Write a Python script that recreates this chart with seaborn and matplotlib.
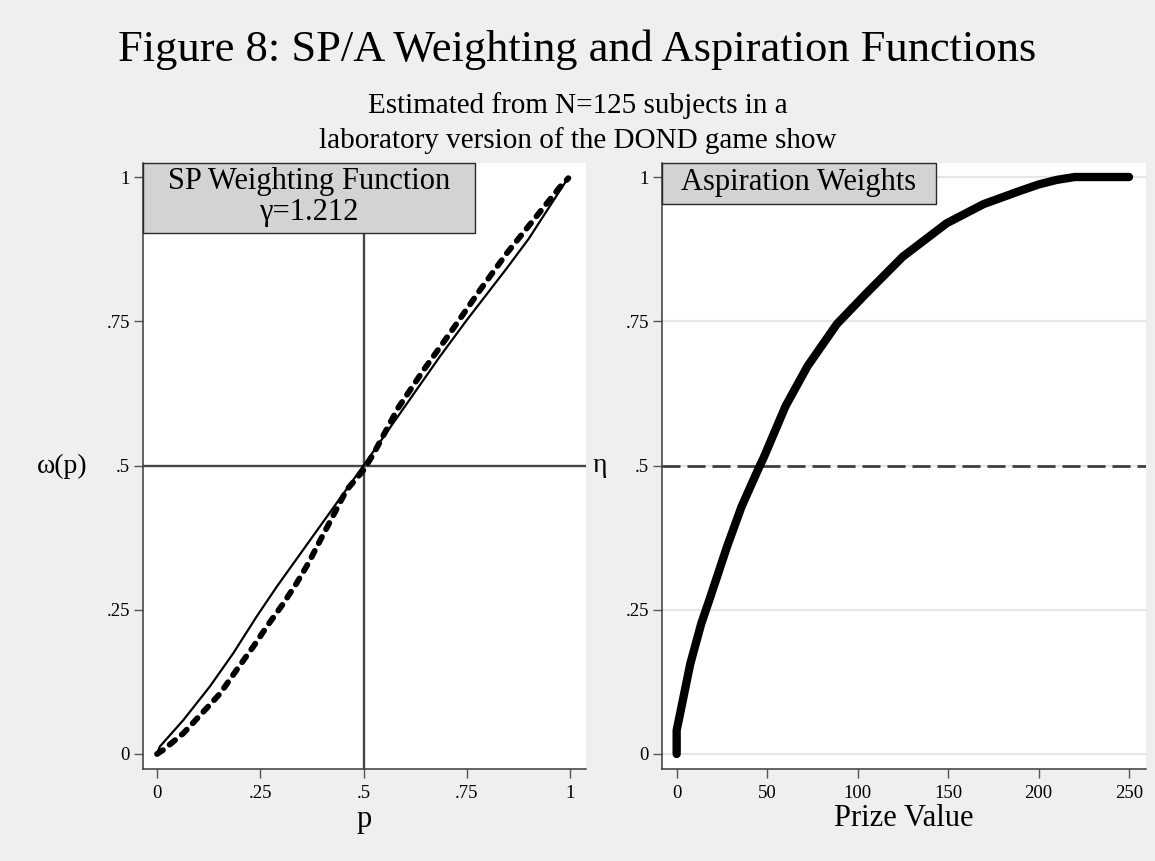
import matplotlib
matplotlib.use("Agg")
import matplotlib.pyplot as plt
from matplotlib.patches import Rectangle
import seaborn as sns
import pandas as pd

# SP weighting function panel
sp_p_dashed = [0, 0.015, 0.064, 0.112, 0.153, 0.193, 0.233, 0.266, 0.306, 0.338, 0.366,
               0.40, 0.459, 0.50, 0.524, 0.584, 0.645, 0.709, 0.782, 0.847, 0.911, 0.976, 0.996]
sp_w_dashed = [0, 0.007, 0.036, 0.073, 0.105, 0.146, 0.186, 0.221, 0.261, 0.296, 0.33,
               0.377, 0.4575, 0.492, 0.52, 0.60, 0.665, 0.729, 0.804, 0.868, 0.925, 0.983, 0.998]
sp_p_solid = [0, 0.007, 0.064, 0.128, 0.185, 0.241, 0.29, 0.33, 0.40, 0.5, 0.685, 0.75, 0.847, 0.9, 0.995]
sp_w_solid = [0, 0.013, 0.059, 0.117, 0.175, 0.238, 0.29, 0.33, 0.40, 0.5, 0.689, 0.752, 0.842, 0.893, 0.998]

# Aspiration weights panel
prize = [0, 0, 3.4, 7.5, 13.6, 18.6, 27.8, 35.9, 46, 48, 60.2, 72.3, 88.5, 104.7,
         125, 149.3, 169.6, 189.8, 200, 210, 220, 250]
asp_weight = [0, 0.041, 0.093, 0.156, 0.226, 0.272, 0.359, 0.429, 0.5, 0.513, 0.603, 0.672,
              0.745, 0.798, 0.862, 0.92, 0.953, 0.976, 0.987, 0.995, 1.0, 1.0]

ref_level = 0.5
gamma_label = "γ=1.212"
y_ticks = [0, 0.25, 0.5, 0.75, 1]
y_ticklabels = ["0", ".25", ".5", ".75", "1"]
p_ticks = [0, 0.25, 0.5, 0.75, 1]
p_ticklabels = ["0", ".25", ".5", ".75", "1"]
prize_ticks = [0, 50, 100, 150, 200, 250]

sns.set_style("white")
plt.rcParams['font.family'] = ['Liberation Serif', 'DejaVu Serif']
plt.rcParams['text.color'] = 'black'
plt.rcParams['axes.labelcolor'] = 'black'
plt.rcParams['xtick.color'] = 'black'
plt.rcParams['ytick.color'] = 'black'

W, H = 1155, 861
BG = '#efefef'
fig = plt.figure(figsize=(W / 100, H / 100), dpi=100, facecolor=BG)
ax1 = fig.add_axes([143 / W, 92 / H, 443 / W, 606 / H])
ax2 = fig.add_axes([662 / W, 92 / H, 484 / W, 606 / H])

sp_dashed = pd.DataFrame({'p': sp_p_dashed, 'w': sp_w_dashed})
sp_solid = pd.DataFrame({'p': sp_p_solid, 'w': sp_w_solid})
asp = pd.DataFrame({'prize': prize, 'weight': asp_weight})

# left panel
ax1.axvline(ref_level, color='#474747', lw=1.7, zorder=1)
ax1.axhline(ref_level, color='#474747', lw=1.7, zorder=1)
sns.lineplot(data=sp_solid, x='p', y='w', ax=ax1, color='black', lw=1.6,
             sort=False, estimator=None, zorder=3)
sns.lineplot(data=sp_dashed, x='p', y='w', ax=ax1, color='black', lw=4.2,
             linestyle=(0, (1.2, 1.5)), dash_capstyle='round',
             sort=False, estimator=None, zorder=3)

# right panel
for yv in y_ticks:
    ax2.axhline(yv, color='#e6e6e6', lw=1.6, zorder=0)
ax2.axhline(ref_level, color='#3f3f3f', lw=2.0, linestyle=(0, (6.5, 2.5)), zorder=2)
sns.lineplot(data=asp, x='prize', y='weight', ax=ax2, color='black', lw=6.0,
             solid_capstyle='round', solid_joinstyle='round',
             sort=False, estimator=None, zorder=3)

for ax in (ax1, ax2):
    ax.set_facecolor('white')
    ax.set_ylim(-0.026, 1.0243)
    ax.set_yticks(y_ticks)
    ax.set_yticklabels(y_ticklabels)
    for s in ('top', 'right'):
        ax.spines[s].set_visible(False)
    for s in ('left', 'bottom'):
        ax.spines[s].set_color('#3a3a3a')
        ax.spines[s].set_linewidth(1.1)
    ax.tick_params(axis='both', direction='out', length=6.5, width=1, color='#555555',
                   labelsize=13.5, left=True, bottom=True)
    ax.tick_params(axis='y', pad=3)
    ax.tick_params(axis='x', pad=5)

ax1.set_xlim(-0.0339, 1.0387)
ax1.set_xticks(p_ticks)
ax1.set_xticklabels(p_ticklabels)
ax2.set_xlim(-8.1, 259.4)
ax2.set_xticks(prize_ticks)

ax1.set_xlabel('p', fontsize=22)
ax1.set_ylabel('ω(p)', fontsize=20, rotation=0, va='center', ha='center')
ax2.set_xlabel('Prize Value', fontsize=22)
ax2.set_ylabel('η', fontsize=20, rotation=0, va='center', ha='center')
ax1.yaxis.set_label_coords((62 - 143) / 443, 0.5)
ax2.yaxis.set_label_coords((600 - 662) / 484, 0.5)
for ax in (ax1, ax2):
    ax.xaxis.label.set_va('center')
    ax.xaxis.set_label_coords(0.5, (769 - 819) / 606)

# panel header boxes
ax1.add_patch(Rectangle((0, 0.8845), 0.749, 0.1155, transform=ax1.transAxes,
                        facecolor='#d3d3d3', edgecolor='#2a2a2a', lw=1, clip_on=False, zorder=5))
ax1.text(0.3747, 0.970, 'SP Weighting Function', transform=ax1.transAxes,
         ha='center', va='center', fontsize=22, zorder=6)
ax1.text(0.3747, 0.919, gamma_label, transform=ax1.transAxes,
         ha='center', va='center', fontsize=22, zorder=6)
ax2.add_patch(Rectangle((0, 0.932), 0.566, 0.068, transform=ax2.transAxes,
                        facecolor='#d3d3d3', edgecolor='#2a2a2a', lw=1, clip_on=False, zorder=5))
ax2.text(0.283, 0.9686, 'Aspiration Weights', transform=ax2.transAxes,
         ha='center', va='center', fontsize=22, zorder=6)

fig.text(0.5, 1 - 50 / H, 'Figure 8: SP/A Weighting and Aspiration Functions',
         ha='center', va='center', fontsize=32)
fig.text(0.5, 1 - 106 / H, 'Estimated from N=125 subjects in a',
         ha='center', va='center', fontsize=21)
fig.text(0.5, 1 - 141 / H, 'laboratory version of the DOND game show',
         ha='center', va='center', fontsize=21)

fig.savefig('out.png', dpi=100, facecolor=BG)
